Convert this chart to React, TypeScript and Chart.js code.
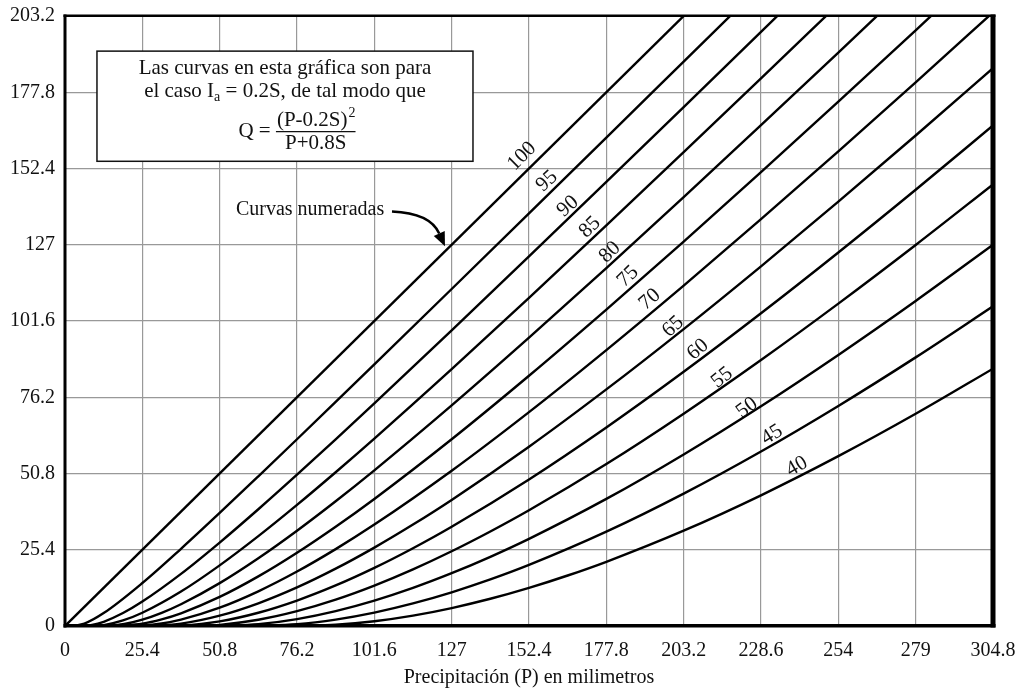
import React, { useEffect, useRef } from "react";
import { Chart, registerables } from "chart.js";

Chart.register(...registerables);

// ---- axis ticks ----
const X_TICKS = [0, 25.4, 50.8, 76.2, 101.6, 127, 152.4, 177.8, 203.2, 228.6, 254, 279.4, 304.8];
const X_TICK_LABELS = ["0", "25.4", "50.8", "76.2", "101.6", "127", "152.4", "177.8", "203.2", "228.6", "254", "279", "304.8"];
const Y_TICKS = [0, 25.4, 50.8, 76.2, 101.6, 127, 152.4, 177.8, 203.2];
const Y_TICK_LABELS = ["0", "25.4", "50.8", "76.2", "101.6", "127", "152.4", "177.8", "203.2"];

// ---- curve numbers ----
const CURVE_NUMBERS = [100, 95, 90, 85, 80, 75, 70, 65, 60, 55, 50, 45, 40];

// ---- series (P in mm, Q in mm) ----
const P_100 = [0, 304.8];
const Q_100 = [0, 304.8];
const P_95 = [2.67, 6.35, 12.7, 25.4, 38.1, 50.8, 63.5, 76.2, 88.9, 101.6, 127, 152.4, 177.8, 203.2, 228.6];
const Q_95 = [0, 0.79, 4.3, 14.31, 25.72, 37.66, 49.87, 62.21, 74.65, 87.15, 112.26, 137.45, 162.7, 188.0, 213.3];
const P_90 = [5.64, 8.89, 12.7, 19.05, 25.4, 38.1, 50.8, 63.5, 76.2, 88.9, 101.6, 127, 152.4, 177.8, 203.2, 228.6, 254];
const Q_90 = [0, 0.34, 1.41, 4.32, 8.14, 17.36, 27.79, 38.89, 50.4, 62.18, 74.15, 98.46, 123.09, 147.91, 172.86, 197.91, 223.01];
const P_85 = [8.97, 12.7, 19.05, 25.4, 38.1, 50.8, 63.5, 76.2, 88.9, 101.6, 127, 152.4, 177.8, 203.2, 228.6, 254];
const Q_85 = [0, 0.29, 1.85, 4.41, 11.48, 20.2, 29.93, 40.34, 51.22, 62.43, 85.55, 109.28, 133.42, 157.82, 182.41, 207.14];
const P_80 = [12.7, 19.05, 25.4, 31.75, 38.1, 50.8, 63.5, 76.2, 88.9, 101.6, 127, 152.4, 177.8, 203.2, 228.6, 254, 279.4];
const Q_80 = [0, 0.58, 2.12, 4.4, 7.26, 14.29, 22.58, 31.75, 41.56, 51.86, 73.48, 96.04, 119.24, 142.88, 166.83, 191.03, 215.41];
const P_75 = [16.93, 25.4, 31.75, 38.1, 50.8, 63.5, 76.2, 88.9, 101.6, 127, 152.4, 177.8, 203.2, 228.6, 254, 279.4, 304.8];
const Q_75 = [0, 0.77, 2.21, 4.23, 9.68, 16.52, 24.4, 33.07, 42.33, 62.21, 83.36, 105.4, 128.06, 151.19, 174.68, 198.45, 222.44];
const P_70 = [21.77, 25.4, 31.75, 38.1, 50.8, 63.5, 76.2, 88.9, 101.6, 127, 152.4, 177.8, 203.2, 228.6, 254, 279.4, 304.8];
const Q_70 = [0, 0.12, 0.84, 2.13, 6.11, 11.56, 18.14, 25.61, 33.77, 51.72, 71.25, 91.91, 113.39, 135.51, 158.11, 181.11, 204.41];
const P_65 = [27.35, 38.1, 50.8, 63.5, 76.2, 88.9, 101.6, 114.3, 127, 152.4, 177.8, 203.2, 228.6, 254, 279.4, 304.8];
const Q_65 = [0, 0.78, 3.43, 7.56, 12.85, 19.1, 26.12, 33.79, 42.0, 59.72, 78.81, 98.91, 119.82, 141.35, 163.39, 185.84];
const P_60 = [33.87, 38.1, 50.8, 63.5, 76.2, 88.9, 101.6, 114.3, 127, 152.4, 177.8, 203.2, 228.6, 254, 279.4, 304.8];
const Q_60 = [0, 0.1, 1.54, 4.41, 8.47, 13.5, 19.35, 25.9, 33.05, 48.81, 66.13, 84.67, 104.16, 124.42, 145.31, 166.73];
const P_55 = [41.56, 50.8, 63.5, 76.2, 88.9, 101.6, 114.3, 127, 139.7, 152.4, 177.8, 203.2, 228.6, 254, 279.4, 304.8];
const Q_55 = [0, 0.39, 2.09, 4.95, 8.78, 13.46, 18.86, 24.89, 31.48, 38.55, 53.95, 70.72, 88.6, 107.39, 126.93, 147.1];
const P_50 = [50.8, 63.5, 76.2, 88.9, 101.6, 114.3, 127, 139.7, 152.4, 177.8, 203.2, 228.6, 254, 279.4, 304.8];
const Q_50 = [0, 0.61, 2.31, 4.97, 8.47, 12.7, 17.59, 23.05, 29.03, 42.33, 57.15, 73.21, 90.31, 108.28, 127.0];
const P_45 = [62.09, 76.2, 88.9, 101.6, 114.3, 127, 139.7, 152.4, 177.8, 203.2, 228.6, 254, 279.4, 304.8];
const Q_45 = [0, 0.61, 2.13, 4.46, 7.52, 11.23, 15.52, 20.35, 31.42, 44.1, 58.13, 73.31, 89.48, 106.49];
const P_40 = [76.2, 88.9, 101.6, 114.3, 127, 139.7, 152.4, 165.1, 177.8, 203.2, 228.6, 254, 279.4, 304.8];
const Q_40 = [0, 0.41, 1.59, 3.46, 5.98, 9.07, 12.7, 16.82, 21.39, 31.75, 43.54, 56.57, 70.68, 85.72];

const SERIES_P = [P_100, P_95, P_90, P_85, P_80, P_75, P_70, P_65, P_60, P_55, P_50, P_45, P_40];
const SERIES_Q = [Q_100, Q_95, Q_90, Q_85, Q_80, Q_75, Q_70, Q_65, Q_60, Q_55, Q_50, Q_45, Q_40];

// ---- annotation texts ----
const X_TITLE = "Precipitación (P) en milimetros";
const NOTE_LINE_1 = "Las curvas en esta gráfica son para";
const NOTE_LINE_2A = "el caso I";
const NOTE_LINE_2SUB = "a";
const NOTE_LINE_2B = " = 0.2S, de tal modo que";
const EQ_LEFT = "Q =";
const EQ_NUM = "(P-0.2S)";
const EQ_SUP = "2";
const EQ_DEN = "P+0.8S";
const CALLOUT_TEXT = "Curvas numeradas";

// ---- annotation placement (data coordinates) ----
const NOTE_BOX = { x1: 10.5, x2: 134.0, yTop: 191.5, yBottom: 154.8 };
const LABEL_PLACES: [number, number, number][] = [
  [150.1, 156.5, -45], [158.3, 148.2, -43], [165.2, 139.8, -42], [172.4, 132.8, -44],
  [179.0, 124.5, -44], [184.9, 116.4, -44], [192.1, 108.8, -41], [199.7, 99.7, -42],
  [207.9, 92.1, -40], [215.8, 82.7, -38], [224.0, 72.7, -36], [232.2, 63.7, -32], [240.4, 53.1, -30],
];
const CALLOUT_AT = { x: 80.5, y: 138.5 };
const ARROW = { sx: 107.4, sy: 138.1, cx: 119.9, cy: 137.6, tx: 124.8, ty: 126.5 };

const SERIF = '"Liberation Serif", "Times New Roman", serif';

const annotPlugin = {
  id: "annot",
  afterDatasetsDraw(chart: any) {
    const { ctx, scales } = chart;
    const xs = scales.x;
    const ys = scales.y;
    const px = (v: number) => xs.getPixelForValue(v);
    const py = (v: number) => ys.getPixelForValue(v);
    ctx.save();

    // curve labels
    ctx.fillStyle = "#111";
    ctx.font = `21px ${SERIF}`;
    ctx.textAlign = "center";
    ctx.textBaseline = "middle";
    LABEL_PLACES.forEach((lp, i) => {
      ctx.save();
      ctx.translate(px(lp[0]), py(lp[1]));
      ctx.rotate((lp[2] * Math.PI) / 180);
      ctx.fillText(String(CURVE_NUMBERS[i]), 0, 0);
      ctx.restore();
    });

    // note box
    const bx1 = px(NOTE_BOX.x1), bx2 = px(NOTE_BOX.x2);
    const by1 = py(NOTE_BOX.yTop), by2 = py(NOTE_BOX.yBottom);
    ctx.fillStyle = "#fff";
    ctx.fillRect(bx1, by1, bx2 - bx1, by2 - by1);
    ctx.strokeStyle = "#111";
    ctx.lineWidth = 1.5;
    ctx.strokeRect(bx1, by1, bx2 - bx1, by2 - by1);

    const cx = (bx1 + bx2) / 2;
    ctx.fillStyle = "#111";
    ctx.textBaseline = "alphabetic";
    ctx.font = `21px ${SERIF}`;
    ctx.textAlign = "center";
    ctx.fillText(NOTE_LINE_1, cx, by1 + 23);

    // line 2 with subscript
    ctx.textAlign = "left";
    const mainFont = `21px ${SERIF}`;
    const subFont = `14px ${SERIF}`;
    ctx.font = mainFont;
    const w1 = ctx.measureText(NOTE_LINE_2A).width;
    const w3 = ctx.measureText(NOTE_LINE_2B).width;
    ctx.font = subFont;
    const w2 = ctx.measureText(NOTE_LINE_2SUB).width;
    const sx = cx - (w1 + w2 + w3) / 2;
    const b2 = by1 + 46;
    ctx.font = mainFont;
    ctx.fillText(NOTE_LINE_2A, sx, b2);
    ctx.font = subFont;
    ctx.fillText(NOTE_LINE_2SUB, sx + w1, b2 + 4);
    ctx.font = mainFont;
    ctx.fillText(NOTE_LINE_2B, sx + w1 + w2, b2);

    // equation
    ctx.font = mainFont;
    const qW = ctx.measureText(EQ_LEFT + " ").width;
    const numW = ctx.measureText(EQ_NUM).width;
    const denW = ctx.measureText(EQ_DEN).width;
    ctx.font = subFont;
    const supW = ctx.measureText(EQ_SUP).width;
    const fracW = Math.max(numW + supW, denW) + 2;
    const eqCx = cx + 12;
    const ex = eqCx - (qW + fracW) / 2;
    const fx = ex + qW;
    ctx.font = mainFont;
    ctx.fillText(EQ_LEFT, ex, by1 + 86);
    ctx.fillText(EQ_NUM, fx + (fracW - numW - supW) / 2, by1 + 75);
    ctx.font = subFont;
    ctx.fillText(EQ_SUP, fx + (fracW - numW - supW) / 2 + numW + 1, by1 + 66);
    ctx.font = mainFont;
    ctx.fillText(EQ_DEN, fx + (fracW - denW) / 2, by1 + 98);
    ctx.beginPath();
    ctx.lineWidth = 1.3;
    ctx.moveTo(fx, by1 + 80.5);
    ctx.lineTo(fx + fracW, by1 + 80.5);
    ctx.stroke();

    // callout
    ctx.font = `20px ${SERIF}`;
    ctx.textAlign = "center";
    ctx.textBaseline = "middle";
    ctx.fillText(CALLOUT_TEXT, px(CALLOUT_AT.x), py(CALLOUT_AT.y));

    const ax = px(ARROW.sx), ay = py(ARROW.sy);
    const qx = px(ARROW.cx), qy = py(ARROW.cy);
    const tx = px(ARROW.tx), ty = py(ARROW.ty);
    const ang = Math.atan2(ty - qy, tx - qx);
    const hl = 14, hw = 6;
    const bxh = tx - hl * Math.cos(ang), byh = ty - hl * Math.sin(ang);
    ctx.beginPath();
    ctx.lineWidth = 2.5;
    ctx.strokeStyle = "#000";
    ctx.moveTo(ax, ay);
    ctx.quadraticCurveTo(qx, qy, bxh, byh);
    ctx.stroke();
    ctx.beginPath();
    ctx.fillStyle = "#000";
    ctx.moveTo(tx, ty);
    ctx.lineTo(bxh + hw * Math.sin(ang), byh - hw * Math.cos(ang));
    ctx.lineTo(bxh - hw * Math.sin(ang), byh + hw * Math.cos(ang));
    ctx.closePath();
    ctx.fill();

    ctx.restore();
  },
  afterDraw(chart: any) {
    const { ctx, chartArea: a } = chart;
    ctx.save();
    ctx.fillStyle = "#000";
    ctx.fillRect(a.left - 1.5, a.top - 1.5, a.right - a.left + 4, 2.5);
    ctx.fillRect(a.left - 1.5, a.top - 1.5, 3, a.bottom - a.top + 3);
    ctx.fillRect(a.left - 1.5, a.bottom - 2, a.right - a.left + 4, 3.5);
    ctx.fillRect(a.right - 2.5, a.top - 1.5, 5, a.bottom - a.top + 3);
    ctx.restore();
  },
};

export default function App() {
  const ref = useRef<HTMLCanvasElement | null>(null);

  useEffect(() => {
    document.body.style.margin = "0";
    const canvas = ref.current;
    if (!canvas) return;

    const datasets = SERIES_P.map((ps, i) => ({
      label: String(CURVE_NUMBERS[i]),
      data: ps.map((p, j) => ({ x: p, y: SERIES_Q[i][j] })),
      borderColor: "#000",
      borderWidth: 2.4,
      pointRadius: 0,
      fill: false,
      cubicInterpolationMode: "monotone" as const,
    }));

    const chart = new Chart(canvas, {
      type: "line",
      data: { datasets },
      plugins: [annotPlugin],
      options: {
        animation: false,
        responsive: false,
        devicePixelRatio: 1,
        layout: { padding: { top: 16, right: 22, left: 0, bottom: 0 } },
        plugins: { legend: { display: false }, tooltip: { enabled: false } },
        scales: {
          x: {
            type: "linear",
            min: 0,
            max: 304.8,
            afterBuildTicks: (s: any) => {
              s.ticks = X_TICKS.map((v) => ({ value: v }));
            },
            afterFit: (s: any) => {
              s.height = 64;
              s.paddingLeft = 0;
              s.paddingRight = 0;
            },
            ticks: {
              padding: 13,
              color: "#111",
              font: { family: SERIF, size: 20 },
              maxRotation: 0,
              autoSkip: false,
              callback: (v: any, i: number) => X_TICK_LABELS[i],
            },
            grid: { color: "#999", lineWidth: 1.2, drawTicks: false },
            border: { display: false },
            title: {
              display: true,
              text: X_TITLE,
              color: "#111",
              font: { family: SERIF, size: 20 },
              padding: { top: 0, bottom: 0 },
            },
          },
          y: {
            type: "linear",
            min: 0,
            max: 203.2,
            afterBuildTicks: (s: any) => {
              s.ticks = Y_TICKS.map((v) => ({ value: v }));
            },
            afterFit: (s: any) => {
              s.width = 65;
              s.paddingTop = 0;
              s.paddingBottom = 0;
            },
            ticks: {
              padding: 10,
              color: "#111",
              font: { family: SERIF, size: 20 },
              autoSkip: false,
              callback: (v: any, i: number) => Y_TICK_LABELS[i],
            },
            grid: { color: "#999", lineWidth: 1.2, drawTicks: false },
            border: { display: false },
          },
        },
      },
    });
    return () => chart.destroy();
  }, []);

  return (
    <canvas
      ref={ref}
      width={1015}
      height={690}
      style={{ display: "block", width: 1015, height: 690 }}
    />
  );
}
